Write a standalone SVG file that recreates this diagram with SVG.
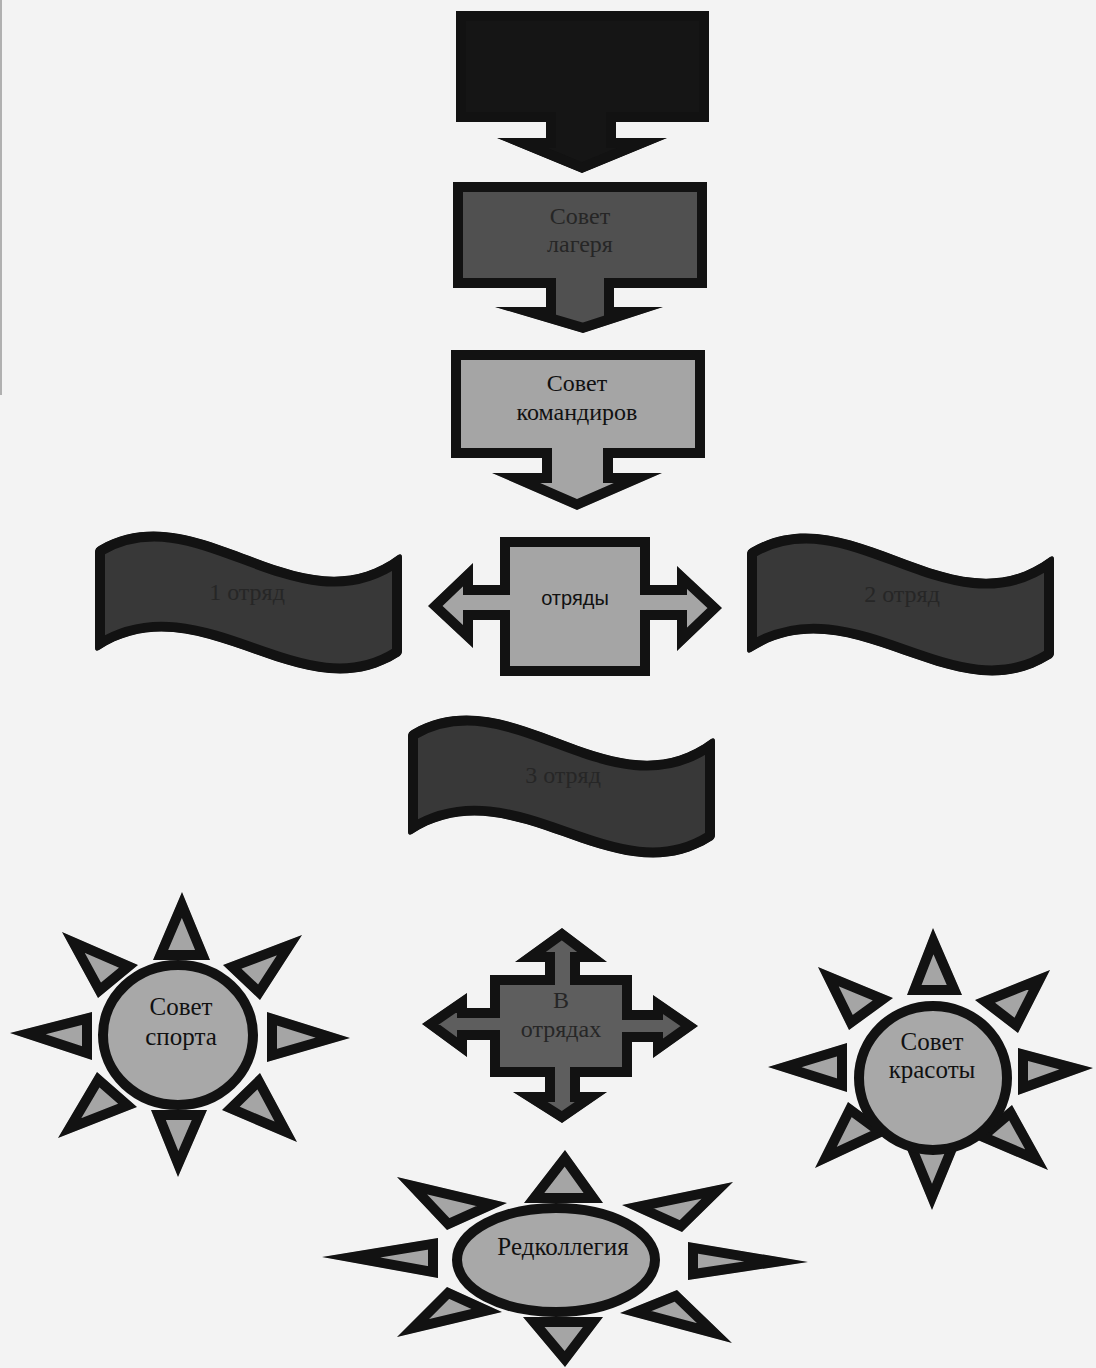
<svg xmlns="http://www.w3.org/2000/svg" xmlns:xlink="http://www.w3.org/1999/xlink" width="1096" height="1368" viewBox="0 0 1096 1368">
<style>
.bd{stroke:#121212;stroke-width:20;stroke-linejoin:miter;stroke-miterlimit:20}
.blk{fill:#151515}
.mid{fill:#505050}
.lt{fill:#a5a5a5}
.wv{fill:#383838}
.cr{fill:#5e5e5e}
.ell{fill:#a8a8a8;stroke:#121212;stroke-width:10}
.t{font-family:"Liberation Serif","Times New Roman",serif;font-size:24px;text-anchor:middle;fill:#111}
.ss{font-size:25px}
.td{fill:#262626}
.ts{font-family:"Liberation Sans",Arial,sans-serif;font-size:20px;text-anchor:middle;fill:#111}
</style>
<defs>
<path id="sTop" d="M456,11 L709,11 L709,122 L616,122 L616,138 L667,138 L582,173 L497,138 L546,138 L546,122 L456,122 Z"/>
<path id="sLag" d="M453,182 L707,182 L707,288 L614,288 L614,307 L663,307 L583,333 L495,307 L546,307 L546,288 L453,288 Z"/>
<path id="sKom" d="M451,350 L705,350 L705,458 L613,458 L613,473 L662,473 L577,510 L492,473 L542,473 L542,458 L451,458 Z"/>
<path id="sOtr" d="M500,537 L650,537 L650,585 L677,585 L677,566 L722,608 L677,651 L677,620 L650,620 L650,676 L500,676 L500,620 L473,620 L473,648 L428,606 L473,563 L473,585 L500,585 Z"/>
<path id="sWave" d="M95,552 Q95,548 99,546 C200,488 300,628 398,555 Q402,553 402,557 L402,651 Q402,655 398,657 C300,718 200,585 99,650 Q95,652 95,648 Z"/>
<path id="sCross" d="M562,928 L607,962 L580,962 L580,975 L632,975 L632,1010 L653,1010 L653,995 L698,1026 L653,1058 L653,1042 L632,1042 L632,1077 L580,1077 L580,1092 L607,1092 L562,1123 L513,1092 L545,1092 L545,1077 L490,1077 L490,1040 L467,1040 L467,1057 L422,1024 L467,993 L467,1008 L490,1008 L490,975 L545,975 L545,962 L515,962 Z"/>
<path id="rA" d="M153,960 L182,892 L210,960 Z M151,1110 L178,1177 L207,1110 Z M92,1012 L10,1033 L92,1060 Z M267,1012 L350,1038 L267,1062 Z M98,998 L62,932 L138,965 Z M223,965 L302,935 L260,1000 Z M137,1107 L58,1138 L97,1072 Z M222,1110 L297,1142 L260,1073 Z"/>
<path id="rB" d="M907,995 L933,928 L962,995 Z M904,1142 L932,1210 L960,1142 Z M847,1043 L768,1067 L847,1092 Z M1018,1048 L1093,1068 L1018,1095 Z M849,1030 L818,967 L893,998 Z M975,1000 L1050,970 L1018,1033 Z M890,1133 L815,1168 L848,1102 Z M973,1138 L1048,1170 L1012,1105 Z"/>
<path id="rC" d="M524,1203 L565,1150 L603,1203 Z M523,1317 L565,1367 L603,1317 Z M438,1238 L322,1257 L438,1278 Z M688,1242 L808,1262 L688,1280 Z M447,1230 L397,1177 L507,1203 Z M622,1205 L733,1182 L682,1232 Z M502,1312 L397,1337 L447,1287 Z M620,1313 L732,1343 L677,1290 Z"/>
<clipPath id="cTop"><use xlink:href="#sTop"/></clipPath>
<clipPath id="cLag"><use xlink:href="#sLag"/></clipPath>
<clipPath id="cKom"><use xlink:href="#sKom"/></clipPath>
<clipPath id="cOtr"><use xlink:href="#sOtr"/></clipPath>
<clipPath id="cWave"><use xlink:href="#sWave"/></clipPath>
<clipPath id="cCross"><use xlink:href="#sCross"/></clipPath>
<clipPath id="cA"><use xlink:href="#rA"/></clipPath>
<clipPath id="cB"><use xlink:href="#rB"/></clipPath>
<clipPath id="cC"><use xlink:href="#rC"/></clipPath>
</defs>
<rect width="1096" height="1368" fill="#f3f3f3"/>
<line x1="1" y1="0" x2="1" y2="395" stroke="#9a9a9a" stroke-width="1.5"/>
<g id="connectors"></g>
<g id="node-top">
<use xlink:href="#sTop" class="blk bd" clip-path="url(#cTop)"/>
</g>
<g id="node-sovet-lagerya">
<use xlink:href="#sLag" class="mid bd" clip-path="url(#cLag)"/>
<text class="t td" x="580" y="224">Совет</text>
<text class="t td" x="580" y="252">лагеря</text>
</g>
<g id="node-sovet-komandirov">
<use xlink:href="#sKom" class="lt bd" clip-path="url(#cKom)"/>
<text class="t" x="577" y="391">Совет</text>
<text class="t" x="577" y="420">командиров</text>
</g>
<g id="node-otryady">
<use xlink:href="#sOtr" class="lt bd" clip-path="url(#cOtr)"/>
<text class="ts" x="575" y="605">отряды</text>
</g>
<g id="node-otryad-1">
<use xlink:href="#sWave" class="wv bd" clip-path="url(#cWave)"/>
<text class="t td" x="247" y="600">1 отряд</text>
</g>
<g id="node-otryad-2">
<g transform="translate(652,2)"><use xlink:href="#sWave" class="wv bd" clip-path="url(#cWave)"/></g>
<text class="t td" x="902" y="602">2 отряд</text>
</g>
<g id="node-otryad-3">
<g transform="translate(313,184)"><use xlink:href="#sWave" class="wv bd" clip-path="url(#cWave)"/></g>
<text class="t td" x="563" y="783">3 отряд</text>
</g>
<g id="node-v-otryadah">
<use xlink:href="#sCross" class="cr bd" clip-path="url(#cCross)"/>
<text class="t td" x="561" y="1008">В</text>
<text class="t td" x="561" y="1037">отрядах</text>
</g>
<g id="node-sovet-sporta">
<use xlink:href="#rA" class="lt bd" clip-path="url(#cA)"/>
<ellipse class="ell" cx="178" cy="1035" rx="75" ry="70"/>
<text class="t ss" x="181" y="1015">Совет</text>
<text class="t ss" x="181" y="1045">спорта</text>
</g>
<g id="node-sovet-krasoty">
<use xlink:href="#rB" class="lt bd" clip-path="url(#cB)"/>
<ellipse class="ell" cx="933" cy="1078" rx="74" ry="72"/>
<text class="t ss" x="932" y="1050">Совет</text>
<text class="t ss" x="932" y="1078">красоты</text>
</g>
<g id="node-redkollegiya">
<use xlink:href="#rC" class="lt bd" clip-path="url(#cC)"/>
<ellipse class="ell" cx="556" cy="1260" rx="99" ry="52"/>
<text class="t ss" x="563" y="1255">Редколлегия</text>
</g>
</svg>
